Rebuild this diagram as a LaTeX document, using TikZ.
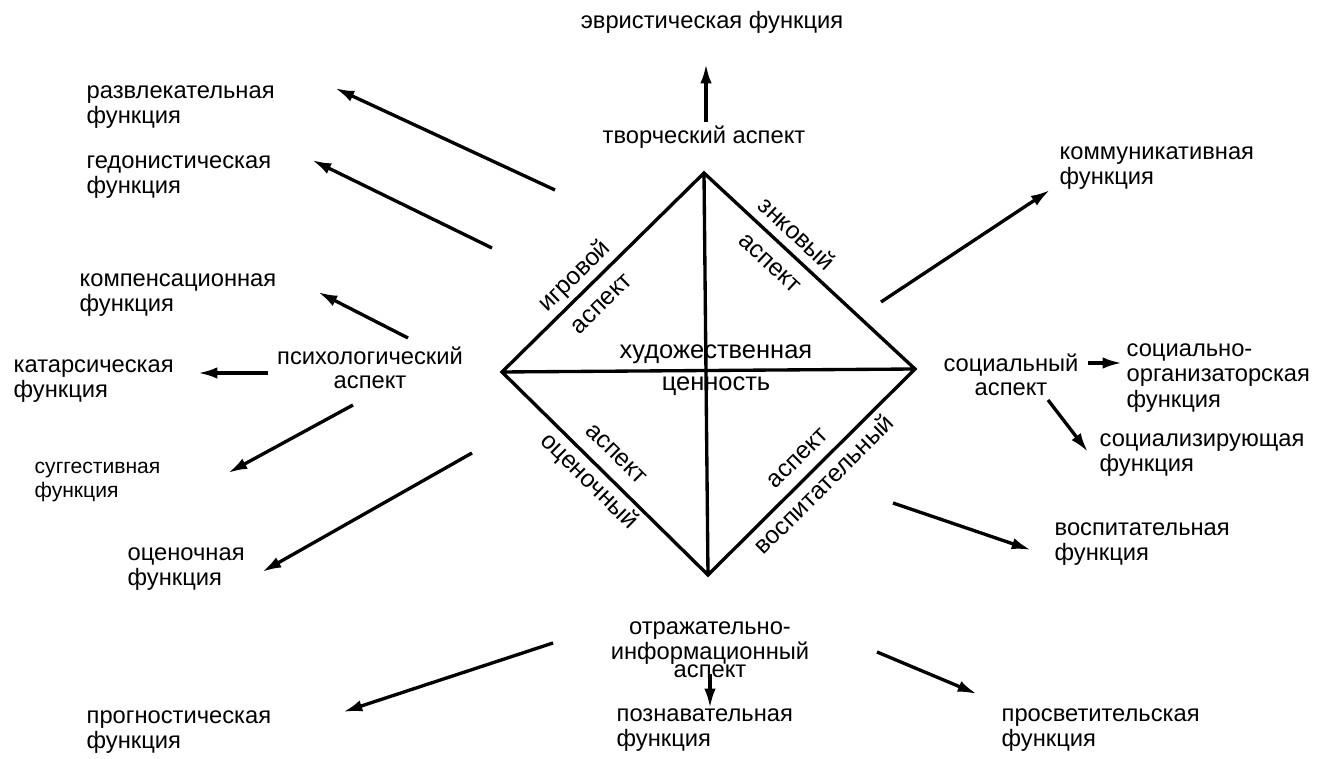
\documentclass[tikz,border=0pt]{standalone}
\usepackage{fontspec}
\setmainfont{Liberation Sans}
\usetikzlibrary{arrows.meta}

\begin{document}
\begin{tikzpicture}[x = .02cm, y = -.02cm, line width = 1.9pt,
    arr/.style = {-{Latex[length = 11pt, width = 6.5pt]}},
    fn/.style = {align = left, anchor = west, inner sep = 0pt,
      font = \fontsize{13.5}{14.5}\selectfont},
    asp/.style = {align = center, inner sep = 0pt,
      font = \fontsize{13.5}{14}\selectfont},
    side lbl/.style = {sloped, align = center, inner sep = 0pt,
      font = \fontsize{14}{22}\selectfont}]
  \useasboundingbox (0,0) rectangle (1323,759);
  \coordinate (T) at (704,173);
  \coordinate (L) at (502,372);
  \coordinate (R) at (915,369);
  \coordinate (B) at (708,575);
  \draw (L) -- (T) -- (R) -- (B) -- cycle (L) -- (R) (T) -- (B);
  \node [side lbl, font = \fontsize{14.5}{18}\selectfont] (value) at (716,370)
    {художественная\\ценность};
  \path (L) -- (T) node [side lbl, pos = .42] (game) {игровой\\аспект};
  \path (T) -- (R) node [side lbl, pos = .38] (sign) {знковый\\аспект};
  \path (L) -- (B) node [side lbl, pos = .48] (judge) {аспект\\оценочный};
  \path (B) -- (R) node [side lbl, pos = .5] (educ) {аспект\\воспитательный};

  \node [asp] (tvor) at (704,137) {творческий аспект};
  \node [asp] (evr) at (712,22) {эвристическая функция};
  \node [asp] (psych) at (370,368) {психологический\\аспект};
  \node [asp] (soc) at (1011,375) {социальный\\аспект};
  \node [asp, font = \fontsize{13.5}{10.5}\selectfont] (otr) at (710,650)
    {отражательно-\\информационный\\аспект};

  \node [fn] (razv) at (85,107) {развлекательная\\функция};
  \node [fn] (gedon) at (85,177) {гедонистическая\\функция};
  \node [fn] (komp) at (78,295) {компенсационная\\функция};
  \node [fn] (katar) at (12,381) {катарсическая\\функция};
  \node [fn, font = \fontsize{12}{14}\selectfont] (sugg) at (33,482)
    {суггестивная\\функция};
  \node [fn] (ocen) at (126,569) {оценочная\\функция};
  \node [fn] (prog) at (85,732) {прогностическая\\функция};
  \node [fn] (pozn) at (615,730) {познавательная\\функция};
  \node [fn] (prosv) at (1000,730) {просветительская\\функция};
  \node [fn] (vosp) at (1053,544) {воспитательная\\функция};
  \node [fn] (socorg) at (1125,378) {социально-\\организаторская\\функция};
  \node [fn] (socz) at (1098,455) {социализирующая\\функция};
  \node [fn] (komm) at (1058,168) {коммуникативная\\функция};

  \foreach \n/\ox/\oy/\ix/\iy in {razv/555/190/335/88, gedon/492/248/312/160,
      komp/408/338/318/292, katar/268/373/198/373, sugg/353/405/228/473,
      ocen/472/453/262/572, prog/553/643/343/712, pozn/710/674/710/708,
      prosv/877/652/977/694, vosp/893/503/1031/550, socz/1048/400/1088/452,
      socorg/1088/363/1122/363, komm/881/302/1050/190, evr/706/122/706/64} {
    \coordinate (\n-o) at (\ox,\oy);
    \coordinate (\n-i) at (\ix,\iy);
    \draw [arr] (\n-o) -- (\n-i);
  }
\end{tikzpicture}
\end{document}
